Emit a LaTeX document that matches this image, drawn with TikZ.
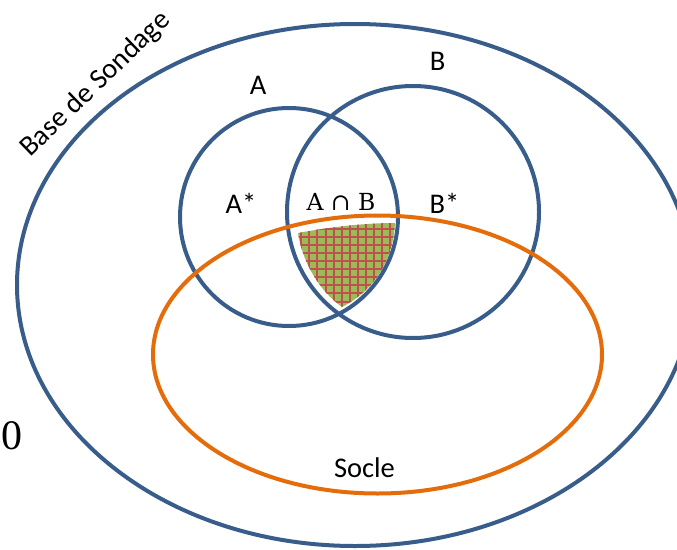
\documentclass[tikz,border=0pt]{standalone}
\usepackage{fontspec}
\newfontfamily\labelfont{Carlito}
\newfontfamily\zerofont{Liberation Serif}
\newfontfamily\capfont{DejaVu Serif}
\definecolor{setblue}{HTML}{385D8A}
\definecolor{socleorange}{HTML}{E46C0A}
\definecolor{hatchgreen}{HTML}{9BBB59}
\definecolor{hatchred}{HTML}{C0504D}
\tikzset{
  setline/.style={draw=setblue, line width=4pt},
  socleline/.style={draw=socleorange, line width=4pt},
  lbl/.style={inner sep=0pt, anchor=base, font=\labelfont\fontsize{28.5}{34}\selectfont},
}
\begin{document}
\begin{tikzpicture}[x=1pt,y=-1pt]
\useasboundingbox (0,0) rectangle (677,549);
\clip (0,0) rectangle (677,549);
% hatched intersection
\begin{scope}
  \clip (298,233) .. controls (330,227) and (365,223) .. (395,223)
        .. controls (393,260) and (375,290) .. (342,307)
        .. controls (318,290) and (302,260) .. cycle;
  \fill[hatchgreen] (280,210) rectangle (410,320);
  \foreach \i in {0,...,18} {
    \draw[hatchred, line width=2pt] (285.0+8.1*\i,210) -- (285.0+8.1*\i,320);
    \draw[hatchred, line width=2pt] (280,212.4+8.1*\i) -- (410,212.4+8.1*\i);
  }
\end{scope}
% sets
\draw[setline] (355,285) ellipse[x radius=338, y radius=261];
\draw[setline] (289,217) circle[radius=109];
\draw[setline] (413,212) circle[radius=126];
\draw[socleline] (377.5,354.5) ellipse[x radius=224.5, y radius=139];
% labels
\node[lbl, rotate=44] (base) at (101,90) {Base de Sondage};
\node[lbl] (la) at (258,94) {A};
\node[lbl] (lb) at (437.5,70) {B};
\node[lbl] (las) at (241,213) {A*};
\node[lbl] (lbs) at (444.5,213) {B*};
\node[inner sep=0pt, anchor=base, font=\capfont\fontsize{23.5}{28}\selectfont] (lab) at (341,210) {A ∩ B};
\node[lbl] (socle) at (364.5,477) {Socle};
\node[inner sep=0pt, anchor=base, font=\zerofont\fontsize{42}{48}\selectfont] (zero) at (12,449) {0};
\end{tikzpicture}
\end{document}
